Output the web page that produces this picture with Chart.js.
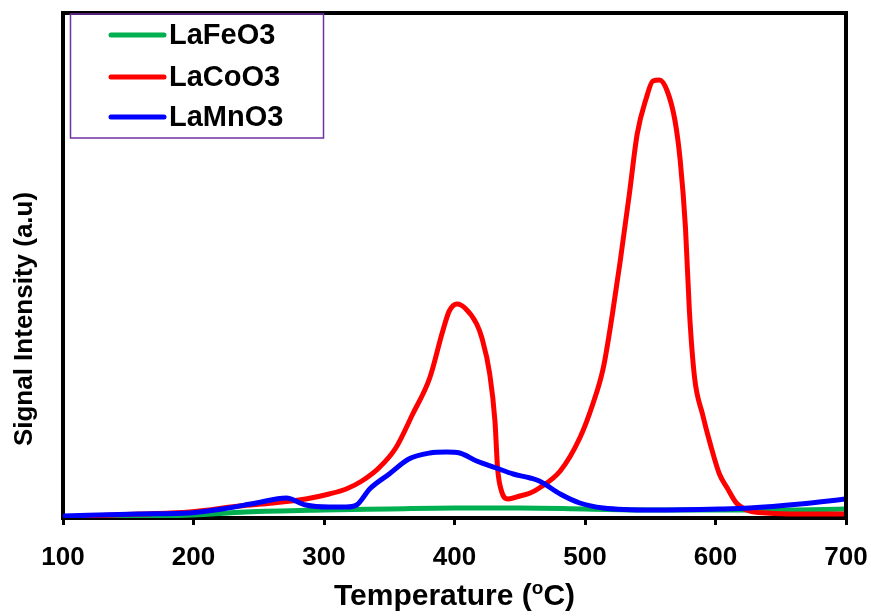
<!DOCTYPE html>
<html>
<head>
<meta charset="utf-8">
<script src="https://cdn.jsdelivr.net/npm/chart.js@4.4.1/dist/chart.umd.min.js"></script>
<style>
  html, body { margin: 0; padding: 0; background: #fff; }
  #wrap { position: relative; width: 871px; height: 616px; }
</style>
</head>
<body>
<div id="wrap"><canvas id="c" width="871" height="616"></canvas></div>
<script>
// ---- data ----
const seriesNames = ['LaFeO3', 'LaCoO3', 'LaMnO3'];
const seriesColors = ['#00B050', '#FF0000', '#0000FF'];

const feTemp = [100, 170, 200, 240, 300, 350, 400, 450, 500, 550, 600, 650, 700];
const feSignal = [1, 2, 3, 6, 8, 9, 10, 10, 9, 8, 8, 8, 9];

const coTemp = [100, 158, 197, 235, 261, 286, 304, 317, 329, 342, 355, 368, 381, 391, 396, 402, 408, 417, 421, 427, 431, 433, 436, 441, 450, 458, 465, 481, 496, 506, 514, 521, 527, 534, 540, 547, 552, 557, 563, 569, 573, 577, 580, 584, 590, 596, 603, 609, 616, 626, 639, 665, 700];
const coSignal = [1, 4, 6, 12, 15, 19, 24, 29, 37, 50, 70, 104, 140, 187, 207, 214, 210, 194, 180, 144, 97, 50, 27, 19, 22, 25, 30, 47, 80, 114, 150, 204, 257, 324, 384, 420, 437, 438, 427, 397, 357, 290, 207, 140, 104, 74, 44, 30, 15, 7, 5, 4, 4];

const mnTemp = [100, 158, 197, 222, 248, 271, 286, 304, 317, 325, 335, 350, 365, 381, 394, 404, 417, 432, 445, 458, 465, 481, 496, 514, 552, 603, 626, 665, 700];
const mnSignal = [2, 4, 5, 9, 15, 20, 13, 11, 11, 13, 29, 44, 59, 65, 66, 65, 57, 50, 44, 40, 37, 24, 15, 10, 8, 9, 10, 14, 19];

const xTicks = [100, 200, 300, 400, 500, 600, 700];
const xTitle = ['Temperature (', 'o', 'C)'];
const yTitle = 'Signal Intensity (a.u)';

const FONT = '"Liberation Sans", Arial, sans-serif';

const toPts = (t, v) => t.map((x, i) => ({ x: x, y: v[i] }));
const allT = [feTemp, coTemp, mnTemp];
const allV = [feSignal, coSignal, mnSignal];

const datasets = seriesNames.map((name, i) => ({
  label: name,
  data: toPts(allT[i], allV[i]),
  borderColor: seriesColors[i],
  backgroundColor: seriesColors[i],
  borderWidth: 5,
  pointRadius: 0,
  fill: false,
  cubicInterpolationMode: 'monotone',
  borderJoinStyle: 'round',
  borderCapStyle: 'round',
  order: 2 - i
}));

const framePlugin = {
  id: 'frame',
  afterDraw(chart) {
    const ctx = chart.ctx, a = chart.chartArea;
    ctx.save();
    ctx.strokeStyle = '#000';
    ctx.lineWidth = 4;
    ctx.lineCap = 'square';
    ctx.beginPath();
    ctx.moveTo(a.left, a.top);
    ctx.lineTo(a.right, a.top);
    ctx.lineTo(a.right, a.bottom);
    ctx.stroke();

    // legend box
    ctx.lineWidth = 1.5;
    ctx.strokeStyle = '#7030A0';
    ctx.strokeRect(70.5, a.top + 1, 253, 124);
    const rows = [35, 77, 117];
    chart.data.datasets.forEach((ds, i) => {
      ctx.strokeStyle = ds.borderColor;
      ctx.lineWidth = 5;
      ctx.lineCap = 'round';
      ctx.beginPath();
      ctx.moveTo(111, rows[i]);
      ctx.lineTo(164, rows[i]);
      ctx.stroke();
      ctx.fillStyle = '#000';
      ctx.font = 'bold 29px ' + FONT;
      ctx.textBaseline = 'middle';
      ctx.textAlign = 'left';
      ctx.fillText(ds.label, 169, rows[i] + 1);
    });

    // x axis title with superscript
    ctx.fillStyle = '#000';
    ctx.textBaseline = 'alphabetic';
    ctx.textAlign = 'left';
    const big = 'bold 30px ' + FONT, small = 'bold 19px ' + FONT;
    ctx.font = big; const w1 = ctx.measureText(xTitle[0]).width;
    ctx.font = small; const w2 = ctx.measureText(xTitle[1]).width;
    ctx.font = big; const w3 = ctx.measureText(xTitle[2]).width;
    const cx = (a.left + a.right) / 2;
    let x0 = cx - (w1 + w2 + w3) / 2;
    const base = 605;
    ctx.font = big; ctx.fillText(xTitle[0], x0, base);
    ctx.font = small; ctx.fillText(xTitle[1], x0 + w1, base - 11);
    ctx.font = big; ctx.fillText(xTitle[2], x0 + w1 + w2, base);

    // y axis title
    ctx.save();
    ctx.translate(25, 319);
    ctx.rotate(-Math.PI / 2);
    ctx.font = 'bold 26px ' + FONT;
    ctx.textAlign = 'center';
    ctx.textBaseline = 'middle';
    ctx.fillText(yTitle, 0, 0);
    ctx.restore();
    ctx.restore();
  }
};

new Chart(document.getElementById('c'), {
  type: 'line',
  data: { datasets: datasets },
  options: {
    responsive: false,
    animation: false,
    events: [],
    layout: { padding: { top: 13, right: 25, left: 0, bottom: 0 } },
    plugins: { legend: { display: false }, tooltip: { enabled: false } },
    scales: {
      x: {
        type: 'linear',
        min: 100, max: 700,
        afterFit(scale) { scale.height = 98; scale.paddingLeft = 0; scale.paddingRight = 0; },
        afterBuildTicks(scale) { scale.ticks = xTicks.map(v => ({ value: v })); },
        border: { display: true, color: '#000', width: 4 },
        grid: { display: true, drawOnChartArea: false, drawTicks: true, tickLength: 7, tickWidth: 3, tickColor: '#000' },
        ticks: { color: '#000', font: { family: FONT, size: 26, weight: 'bold' }, padding: 17, maxRotation: 0 }
      },
      y: {
        min: 0, max: 505,
        afterFit(scale) { scale.width = 63; },
        border: { display: true, color: '#000', width: 4 },
        grid: { display: false },
        ticks: { display: false }
      }
    }
  },
  plugins: [framePlugin]
});
</script>
</body>
</html>
